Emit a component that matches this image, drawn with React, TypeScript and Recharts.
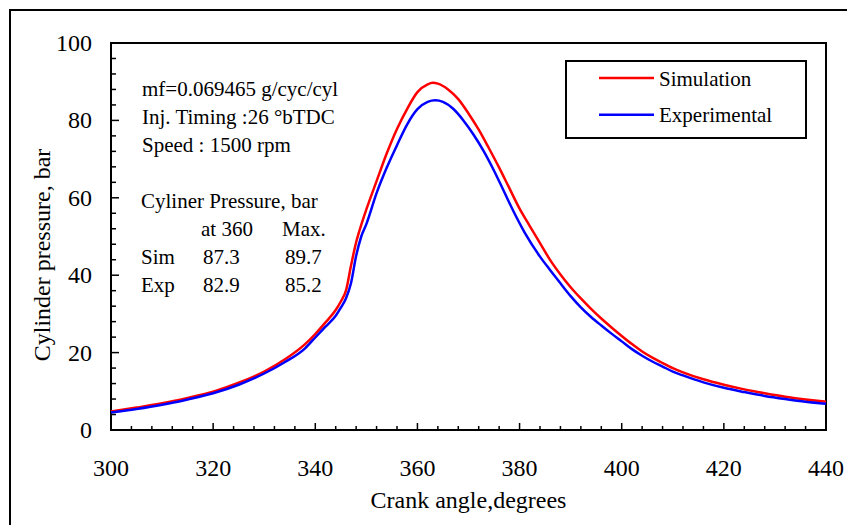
import { LineChart, Line, XAxis, YAxis, ReferenceArea, Legend, Customized } from "recharts";

const simAngles = [300, 305, 310, 315, 320, 325, 330, 334, 338, 340, 342, 344, 345, 346, 347, 348, 349, 350, 352, 354, 356, 358, 360, 362, 363, 364, 366, 368, 370, 372, 374, 376, 378, 380, 382, 384, 386, 388, 390, 392, 394, 396, 398, 400, 402, 404, 406, 408, 410, 412, 416, 420, 424, 428, 432, 436, 440];
const simPressure = [4.8, 5.8, 6.9, 8.3, 9.9, 12.2, 15.1, 18.2, 22.2, 24.8, 27.8, 31.0, 33.2, 36.0, 42.5, 48.5, 53.0, 57.0, 64.3, 71.5, 77.8, 83.0, 87.3, 89.3, 89.7, 89.5, 88.0, 85.5, 81.8, 77.6, 72.8, 67.8, 62.5, 57.2, 52.7, 48.3, 43.9, 40.2, 36.9, 34.0, 31.3, 28.8, 26.5, 24.3, 22.2, 20.3, 18.7, 17.3, 16.0, 14.9, 13.1, 11.7, 10.5, 9.5, 8.6, 7.9, 7.3];

const expAngles = [300, 305, 310, 315, 320, 325, 330, 334, 338, 340, 342, 344, 345, 346, 347, 348, 349, 350, 352, 354, 356, 358, 360, 362, 363.5, 365, 367, 369, 371, 373, 375, 377, 379, 381, 384, 386, 388, 390, 392, 394, 396, 398, 400, 402, 404, 406, 408, 410, 412, 416, 420, 424, 428, 432, 436, 440];
const expPressure = [4.5, 5.4, 6.5, 7.9, 9.5, 11.7, 14.6, 17.5, 21.1, 23.9, 26.7, 29.5, 31.6, 34.0, 38.0, 45.0, 50.0, 53.2, 61.2, 67.8, 73.6, 79.0, 82.9, 84.8, 85.2, 84.8, 83.0, 80.0, 76.3, 72.0, 67.0, 61.5, 56.0, 51.0, 44.8, 41.3, 37.9, 34.6, 31.7, 29.2, 27.0, 24.9, 22.9, 20.9, 19.2, 17.7, 16.4, 15.1, 14.1, 12.3, 10.9, 9.8, 8.8, 8.0, 7.3, 6.8];

const xTicks = [300, 304, 308, 312, 316, 320, 324, 328, 332, 336, 340, 344, 348, 352, 356, 360, 364, 368, 372, 376, 380, 384, 388, 392, 396, 400, 404, 408, 412, 416, 420, 424, 428, 432, 436, 440];
const yTicks = [0, 4, 8, 12, 16, 20, 24, 28, 32, 36, 40, 44, 48, 52, 56, 60, 64, 68, 72, 76, 80, 84, 88, 92, 96, 100];

const legendOrder = ["Simulation", "Experimental"];
const infoLines = ["mf=0.069465 g/cyc/cyl", "Inj. Timing :26 \u00b0bTDC", "Speed : 1500 rpm"];
const tableHeader = "Cyliner Pressure, bar";
const tableCols = ["", "at 360", "Max."];
const tableRows = [
  ["Sim", "87.3", "89.7"],
  ["Exp", "82.9", "85.2"],
];

const simData = simAngles.map((a, i) => ({ angle: a, p: simPressure[i] }));
const expData = expAngles.map((a, i) => ({ angle: a, p: expPressure[i] }));

const FONT = "'Liberation Serif', 'DejaVu Serif', serif";

const XTick = (props: any) => {
  const { x, y, payload } = props;
  const major = payload.value % 20 === 0;
  return (
    <g>
      <line x1={x} x2={x} y1={y} y2={y - (major ? 7 : 4)} stroke="#000" strokeWidth={1.5} />
      {major && (
        <text x={x} y={y + 46} textAnchor="middle" fill="#000" fontFamily={FONT} fontSize={24}>
          {payload.value}
        </text>
      )}
    </g>
  );
};

const YTick = (props: any) => {
  const { x, y, payload } = props;
  const major = payload.value % 20 === 0;
  return (
    <g>
      <line x1={x} x2={x + (major ? 8 : 5)} y1={y} y2={y} stroke="#000" strokeWidth={1.5} />
      {major && (
        <text x={x - 19} y={y + 8} textAnchor="end" fill="#000" fontFamily={FONT} fontSize={24}>
          {payload.value}
        </text>
      )}
    </g>
  );
};

const LegendBox = (props: any) => {
  const items = [...(props.payload || [])].sort(
    (a: any, b: any) => legendOrder.indexOf(a.value) - legendOrder.indexOf(b.value)
  );
  return (
    <svg width={242} height={80} style={{ display: "block" }}>
      <rect x={1} y={1} width={240} height={77} fill="#fff" stroke="#000" strokeWidth={2} />
      {items.map((it: any, i: number) => (
        <g key={it.value}>
          <line x1={34} x2={89} y1={18 + i * 36.7} y2={18 + i * 36.7} stroke={it.color} strokeWidth={2.5} />
          <text x={94} y={26 + i * 36} fill="#000" fontFamily={FONT} fontSize={21}>
            {it.value}
          </text>
        </g>
      ))}
    </svg>
  );
};

const Notes = () => (
  <g fill="#000" fontFamily={FONT} fontSize={21}>
    {infoLines.map((t, i) => (
      <text key={t} x={142} y={96 + i * 28} fontFamily={FONT} fontSize={21}>
        {t}
      </text>
    ))}
    <text x={141} y={208} fontFamily={FONT} fontSize={21}>{tableHeader}</text>
    <text x={201} y={236} fontFamily={FONT} fontSize={21}>{tableCols[1]}</text>
    <text x={282} y={236} fontFamily={FONT} fontSize={21}>{tableCols[2]}</text>
    {tableRows.map((r, i) => (
      <g key={r[0]}>
        <text x={141} y={264 + i * 28} fontFamily={FONT} fontSize={21}>{r[0]}</text>
        <text x={203} y={264 + i * 28} fontFamily={FONT} fontSize={21}>{r[1]}</text>
        <text x={285} y={264 + i * 28} fontFamily={FONT} fontSize={21}>{r[2]}</text>
      </g>
    ))}
    <text
      x={42}
      y={255}
      transform="rotate(-90 42 255)"
      textAnchor="middle"
      dominantBaseline="central"
      fontFamily={FONT}
      fontSize={24}
    >
      Cylinder pressure, bar
    </text>
    <text x={468.5} y={508} textAnchor="middle" fontFamily={FONT} fontSize={24}>
      Crank angle,degrees
    </text>
  </g>
);

export default function App() {
  return (
    <div
      style={{
        position: "absolute",
        left: 0,
        top: 0,
        width: 847,
        height: 525,
        overflow: "hidden",
        background: "#fff",
      }}
    >
      <div
        style={{
          position: "absolute",
          left: 9,
          top: 9,
          width: 900,
          height: 600,
          border: "2px solid #000",
        }}
      />
      <div style={{ position: "absolute", left: 0, top: 0 }}>
        <LineChart width={847} height={525} margin={{ top: 43, right: 21, bottom: 0, left: 0 }}>
          <XAxis
            dataKey="angle"
            type="number"
            domain={[300, 440]}
            ticks={xTicks}
            interval={0}
            height={95}
            axisLine={false}
            tickLine={false}
            tickSize={0}
            tickMargin={0}
            tick={<XTick />}
            allowDuplicatedCategory={false}
          />
          <YAxis
            type="number"
            domain={[0, 100]}
            ticks={yTicks}
            interval={0}
            width={111}
            axisLine={false}
            tickLine={false}
            tickSize={0}
            tickMargin={0}
            tick={<YTick />}
          />
          <ReferenceArea x1={300} x2={440} y1={0} y2={100} fill="none" stroke="#000" strokeWidth={2} />
          <Line
            data={simData}
            dataKey="p"
            name="Simulation"
            type="monotone"
            stroke="#ff0000"
            strokeWidth={2.5}
            dot={false}
            isAnimationActive={false}
          />
          <Line
            data={expData}
            dataKey="p"
            name="Experimental"
            type="monotone"
            stroke="#0000ff"
            strokeWidth={2.5}
            dot={false}
            isAnimationActive={false}
          />
          <Legend
            layout="horizontal"
            verticalAlign="middle"
            align="center"
            content={<LegendBox />}
            wrapperStyle={{ position: "absolute", left: 565, top: 60, width: 242, height: 80 }}
          />
          <Customized component={<Notes />} />
        </LineChart>
      </div>
    </div>
  );
}
